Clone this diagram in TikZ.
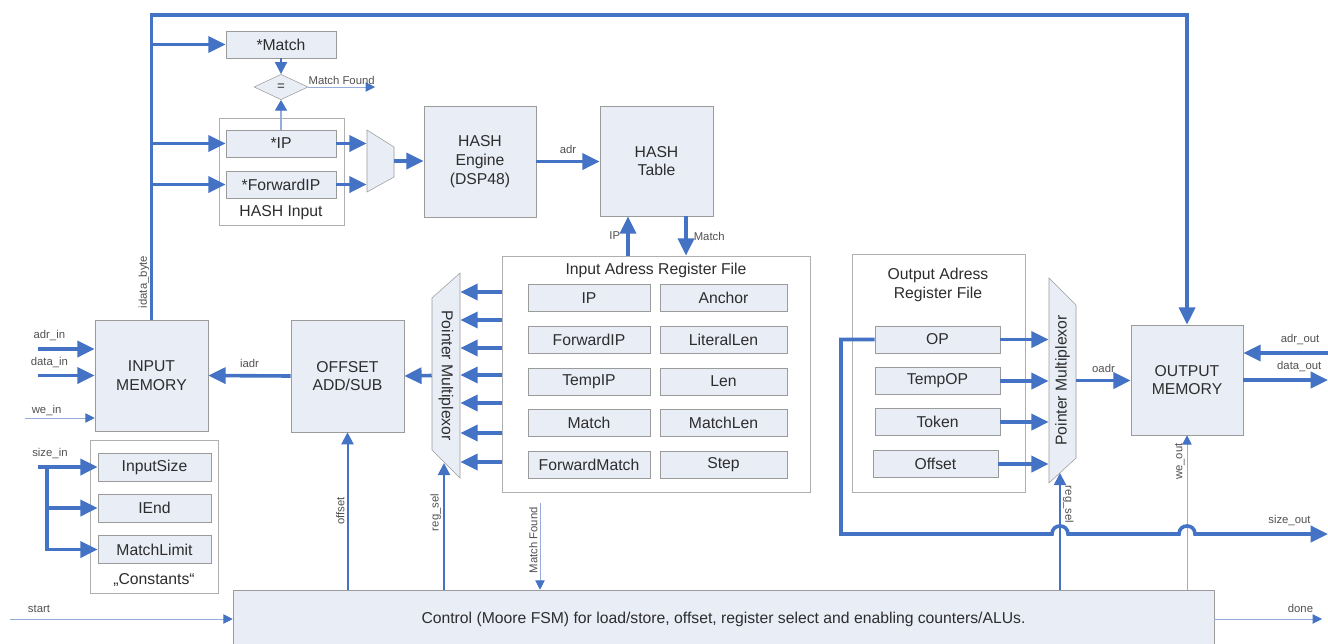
\documentclass[tikz,border=0pt]{standalone}
\usepackage{fontspec}
\setmainfont{Liberation Sans}
\usetikzlibrary{arrows.meta,shapes.geometric,calc}

\definecolor{wireblue}{RGB}{68,114,196}
\definecolor{thinblue}{RGB}{150,172,218}
\definecolor{boxfill}{RGB}{233,237,246}
\definecolor{boxline}{RGB}{155,155,155}
\definecolor{grpline}{RGB}{175,175,175}
\definecolor{txtgray}{RGB}{45,45,45}
\definecolor{lblgray}{RGB}{80,80,80}

\begin{document}
\begin{tikzpicture}[x=0.75pt,y=-0.75pt,
  blk/.style={draw=boxline,fill=boxfill,align=center,text=txtgray,font=\fontsize{11.8}{14}\selectfont,inner sep=0pt},
  reg/.style={blk,minimum height=20.25pt},
  grp/.style={draw=grpline,fill=white,inner sep=0pt},
  title/.style={text=txtgray,font=\fontsize{11.8}{14}\selectfont,align=center,inner sep=0pt},
  muxshape/.style={draw=boxline,fill=boxfill},
  bus/.style={draw=wireblue,line width=2.7pt},
  busarr/.style={bus,-{Triangle[length=13pt,width=12pt]}},
  midarr/.style={draw=wireblue,line width=1.5pt,-{Triangle[length=9pt,width=9pt]}},
  thinarr/.style={draw=thinblue,line width=0.7pt,-{Triangle[length=7pt,width=7pt,color=wireblue]}},
  lbl/.style={text=lblgray,font=\fontsize{8.5}{10}\selectfont,inner sep=1.5pt}]

\useasboundingbox (0,0) rectangle (1328,643);

% ---------------- GROUP FRAMES ----------------

\node[grp,minimum width=93.75pt,minimum height=80.25pt] (hgrp) at (281.5,171.5) {};
\node[grp,minimum width=231pt,minimum height=177pt] (iregs) at (656,374) {};
\node[grp,minimum width=96pt,minimum height=114.75pt] (cgrp) at (154,516.5) {};
\node[grp,minimum width=129.75pt,minimum height=178.5pt] (oregs) at (938.5,373) {};

\node[title] (hgrpT) at (281,213) {HASH Input};
\node[title] (iregsT) at (656,270) {Input Adress Register File};
\node[title] (cgrpT) at (154,580) {„Constants“};
\node[title] (oregsT) at (938,285) {Output Adress\\Register File};

% ---------------- HASH PART ----------------

\node[reg,minimum width=82.5pt] (smatch) at (281,44.5) {*Match};
\node[diamond,draw=boxline,fill=boxfill,text=txtgray,minimum width=40.5pt,minimum height=19pt,inner sep=0pt,font=\fontsize{10}{12}\selectfont] (eq) at (281,87) {=};
\node[reg,minimum width=82.5pt] (hip) at (281,143.5) {*IP};
\node[reg,minimum width=82.5pt] (hfip) at (281,184.5) {*ForwardIP};

\node[inner sep=0pt,minimum width=20.25pt,minimum height=46.5pt] (hmux) at (380.5,161) {};
\draw[muxshape] (367,130) -- (394,147) -- (394,177) -- (367,192) -- cycle;

\node[blk,minimum width=84pt,minimum height=83.25pt] (heng) at (480,161.5) {HASH\\Engine\\(DSP48)};
\node[blk,minimum width=84.75pt,minimum height=82.5pt] (htab) at (656.5,161) {HASH\\Table};

% ---------------- INPUT SIDE ----------------

\node[blk,minimum width=84.75pt,minimum height=83.25pt] (imem) at (151.5,375.5) {INPUT\\MEMORY};
\node[blk,minimum width=84.75pt,minimum height=84pt] (offs) at (347.5,376) {OFFSET\\ADD/SUB};

\node[reg,minimum width=84.75pt,minimum height=21pt] (isz) at (154.5,467) {InputSize};
\node[reg,minimum width=84.75pt,minimum height=21pt] (iend) at (154.5,508) {IEnd};
\node[reg,minimum width=84.75pt,minimum height=21pt] (mlim) at (154.5,549.5) {MatchLimit};

\node[inner sep=0pt,minimum width=21pt,minimum height=153.75pt] (imux) at (446,375.5) {};
\draw[muxshape] (460,273) -- (460,478) -- (432,450) -- (432,298) -- cycle;
\node[title,rotate=-90] (imuxT) at (446,375.5) {Pointer Multiplexor};

\node[reg,minimum width=91.5pt] (rip) at (589,298) {IP};
\node[reg,minimum width=95.25pt] (ranchor) at (723.5,298) {Anchor};
\node[reg,minimum width=91.5pt] (rfip) at (589,340) {ForwardIP};
\node[reg,minimum width=95.25pt] (rlitlen) at (723.5,340) {LiteralLen};
\node[reg,minimum width=91.5pt] (rtmpip) at (589,381.5) {TempIP};
\node[reg,minimum width=95.25pt] (rlen) at (723.5,381.5) {Len};
\node[reg,minimum width=91.5pt] (rmatch) at (589,423) {Match};
\node[reg,minimum width=95.25pt] (rmatchlen) at (723.5,423) {MatchLen};
\node[reg,minimum width=91.5pt] (rfmatch) at (589,465) {ForwardMatch};
\node[reg,minimum width=95.25pt] (rstep) at (723.5,465) {Step};

% ---------------- OUTPUT SIDE ----------------

\node[reg,minimum width=93.75pt] (rop) at (937.5,339.5) {OP};
\node[reg,minimum width=93.75pt] (rtmpop) at (937.5,381) {TempOP};
\node[reg,minimum width=93.75pt] (rtoken) at (937.5,422) {Token};
\node[reg,minimum width=93.75pt] (rofs) at (935.5,464) {Offset};

\node[inner sep=0pt,minimum width=20.25pt,minimum height=153.75pt] (omux) at (1062.5,380.5) {};
\draw[muxshape] (1049,278) -- (1076,305) -- (1076,458) -- (1049,483) -- cycle;
\node[title,rotate=90] (omuxT) at (1062.5,380.5) {Pointer Multiplexor};

\node[blk,minimum width=84pt,minimum height=82.5pt] (omem) at (1187,380) {OUTPUT\\MEMORY};

% ---------------- CONTROL ----------------

\node[blk,minimum width=735.75pt,minimum height=43.5pt] (ctrl) at (723.5,619) {Control (Moore FSM) for load/store, offset, register select and enabling counters/ALUs.};

% ---------------- CONNECTIONS ----------------

\coordinate (tl) at (151.5,15);
\coordinate (tr) at (1187,15);
\draw[busarr] (imem.north) -- (tl) -- (tr) -- (omem.north);
\node[lbl,rotate=90,anchor=south] at (151.5,282) {idata\_byte};
\draw[busarr] (tl |- smatch.west) -- (smatch.west);
\draw[busarr] (tl |- hip.west) -- (hip.west);
\draw[busarr] (tl |- hfip.west) -- (hfip.west);

\coordinate (mfound) at (375,87);
\draw[midarr] (smatch.south) -- (eq.north);
\draw[draw=thinblue,line width=0.8pt,-{Triangle[length=8pt,width=9pt,color=wireblue]}] (hip.north) -- (eq.south);
\draw[thinarr] (eq.east) -- (mfound) node[lbl,midway,above] {Match Found};

\draw[busarr] (hip.east) -- (hip.east -| hmux.west);
\draw[busarr] (hfip.east) -- (hfip.east -| hmux.west);
\draw[busarr] (hmux.east) -- (hmux.east -| heng.west);
\draw[busarr] (heng.east) -- (heng.east -| htab.west) node[lbl,midway,above=3pt] {adr};

\coordinate (ipx) at (628,0);
\coordinate (matchx) at (686,0);
\draw[busarr] (iregs.north -| ipx) -- (htab.south -| ipx) node[lbl,midway,left=3pt] {IP};
\draw[busarr] (htab.south -| matchx) -- (iregs.north -| matchx) node[lbl,midway,right=3pt] {Match};

\foreach \y in {292,320,348,375,403,433,462}
  \draw[busarr] (iregs.west |- 0,\y) -- (imux.east |- 0,\y);
\draw[busarr] (imux.west) -- (offs.east);
\draw[busarr] (offs.west) -- (imem.east) node[lbl,midway,above=3pt] {iadr};

\coordinate (adrin) at (38,349);
\coordinate (datain) at (38,375.5);
\coordinate (wein) at (25,418);
\draw[busarr] (adrin) -- (adrin -| imem.west) node[lbl,pos=0.2,above=3pt] {adr\_in};
\draw[busarr] (datain) -- (imem.west) node[lbl,pos=0.2,above=3pt] {data\_in};
\draw[thinarr] (wein) -- (wein -| imem.west) node[lbl,pos=0.31,above] {we\_in};

\coordinate (szin) at (38,467);
\coordinate (szbr) at (47,467);
\draw[busarr] (szin) -- (isz.west) node[lbl,pos=0.2,above=3pt] {size\_in};
\draw[busarr] (szbr) |- (iend.west);
\draw[busarr] (szbr) |- (mlim.west);

\coordinate (rsin) at (444,463);
\coordinate (mfin) at (540,503);
\draw[midarr] (ctrl.north -| offs.south) -- (offs.south) node[lbl,pos=0.5,rotate=90,anchor=south] {offset};
\draw[midarr] (ctrl.north -| rsin) -- (rsin) node[lbl,pos=0.61,rotate=90,anchor=south] {reg\_sel};
\draw[thinarr] (mfin) -- (ctrl.north -| mfin) node[lbl,pos=0.43,rotate=90,anchor=south] {Match Found};

\coordinate (start) at (10,619);
\coordinate (done) at (1322,619);
\draw[thinarr] (start) -- (ctrl.west) node[lbl,pos=0.13,above=3pt] {start};
\draw[thinarr] (ctrl.east) -- (done) node[lbl,pos=0.8,above=3pt] {done};

\draw[busarr] (rop.east) -- (rop.east -| omux.west);
\draw[busarr] (rtmpop.east) -- (rtmpop.east -| omux.west);
\draw[busarr] (rtoken.east) -- (rtoken.east -| omux.west);
\draw[busarr] (rofs.east) -- (rofs.east -| omux.west);
\draw[busarr] (omux.east) -- (omux.east -| omem.west) node[lbl,midway,above=3pt] {oadr};

\coordinate (adrout) at (1328,353);
\coordinate (dataout) at (1328,380);
\draw[busarr] (adrout) -- (adrout -| omem.east) node[lbl,pos=0.33,above=3pt] {adr\_out};
\draw[busarr] (omem.east) -- (dataout) node[lbl,pos=0.66,above=3pt] {data\_out};

\coordinate (rsout) at (1060,473);
\draw[thinarr] (ctrl.north -| omem.south) -- (omem.south) node[lbl,pos=0.83,rotate=90,anchor=south] {we\_out};
\draw[midarr] (ctrl.north -| rsout) -- (rsout) node[lbl,pos=0.73,rotate=-90,anchor=south] {reg\_sel};

\coordinate (szturn) at (841,534);
\coordinate (szout) at (1328,534);
\draw[busarr] (rop.west) -| (szturn)
  -- ($(szturn -| rsout)+(-8,0)$) .. controls +(0,-10.7) and +(0,-10.7) .. ($(szturn -| rsout)+(8,0)$)
  -- ($(szturn -| omem.south)+(-8,0)$) .. controls +(0,-10.7) and +(0,-10.7) .. ($(szturn -| omem.south)+(8,0)$)
  -- (szout) node[lbl,pos=0.71,above=3pt] {size\_out};

\end{tikzpicture}
\end{document}
